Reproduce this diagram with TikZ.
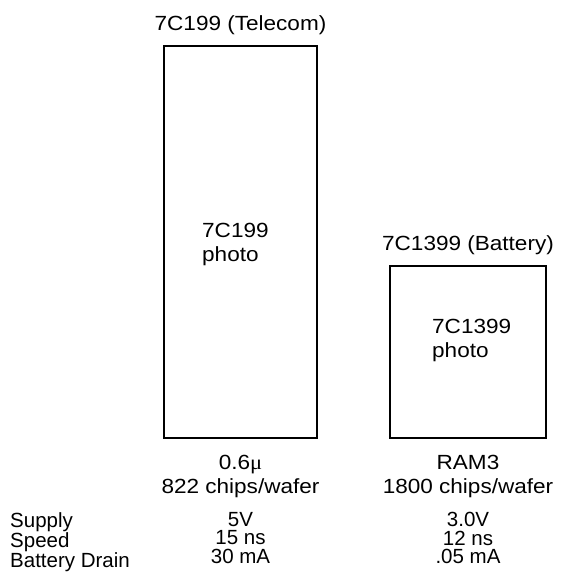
\documentclass[tikz,border=0pt]{standalone}
\usepackage{fontspec}
\setmainfont{Liberation Sans}[FakeStretch=1.1]
\newfontfamily\mufont{Liberation Serif}[FakeStretch=1.1]
\newfontfamily\tblfont{Liberation Sans}
\usetikzlibrary{positioning}

\begin{document}
\begin{tikzpicture}[x=1pt, y=-1pt, node distance=15pt, every node/.style={font=\fontsize{20.5}{24}\selectfont, inner sep=0pt}]
\tikzstyle{chip}=[rectangle, draw=black, line width=2pt]
\tikzstyle{lbl}=[align=center]
\tikzstyle{tbl}=[font=\tblfont\fontsize{20.5}{18.5}\selectfont, anchor=north]
\useasboundingbox (0,0) rectangle (564,579);
% the two dies
\node[chip, minimum width=153pt, minimum height=392pt] (telecom) at (240.5,242) {};
\node[chip, minimum width=156pt, minimum height=172pt] (battery) at (468,352) {};
\node[above=10.5pt of telecom] (telecomname) {7C199 (Telecom)};
\node[above=10pt of battery] (batteryname) {7C1399 (Battery)};
\node[align=left, anchor=north west] (telecomphoto) at (202,223) {7C199\\photo};
\node[align=left, anchor=north west] (batteryphoto) at (432,319) {7C1399\\photo};
% process and yield
\node[lbl, below=16pt of telecom] (telecomproc) {0.6{\mufont μ}\\822 chips/wafer};
\node[lbl, below=16pt of battery] (batteryproc) {RAM3\\1800 chips/wafer};
% table
\node[tbl, align=left, anchor=north west] (params) at (10,512) {Supply\\Speed\\Battery Drain};
\node[tbl, align=center] (telecomvals) at (240.5,512) {5V\\15 ns\\30 mA};
\node[tbl, align=center] (batteryvals) at (468,512) {3.0V\\12 ns\\.05 mA};
\end{tikzpicture}
\end{document}
